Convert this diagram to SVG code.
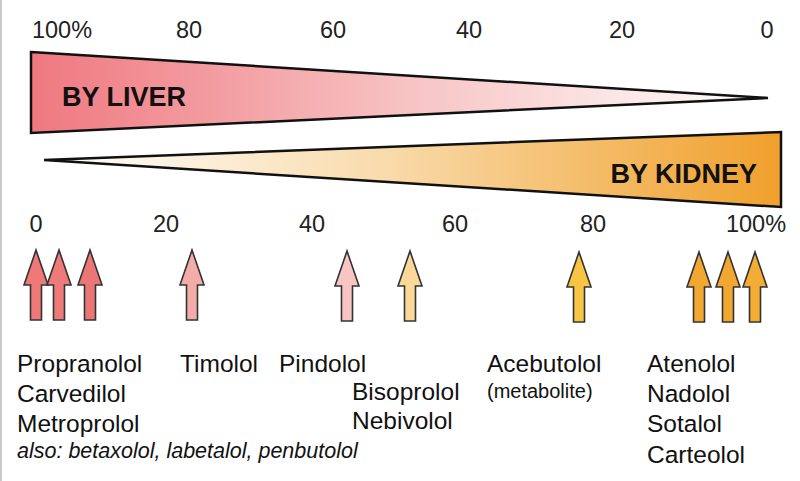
<svg xmlns="http://www.w3.org/2000/svg" width="800" height="481" viewBox="0 0 800 481">
<defs>
<linearGradient id="gLiver" x1="31" y1="0" x2="770" y2="0" gradientUnits="userSpaceOnUse">
<stop offset="0" stop-color="#ef7880"/>
<stop offset="0.5" stop-color="#f7c2c2"/>
<stop offset="1" stop-color="#ffffff"/>
</linearGradient>
<linearGradient id="gKidney" x1="44" y1="0" x2="781" y2="0" gradientUnits="userSpaceOnUse">
<stop offset="0" stop-color="#ffffff"/>
<stop offset="0.45" stop-color="#f9dcae"/>
<stop offset="1" stop-color="#f0a02c"/>
</linearGradient>
<path id="arr" d="M0,0 L12,35 L5.5,35 L5.5,70 L-5.5,70 L-5.5,35 L-12,35 Z"/>
</defs>
<style>
.tick{font-family:"Liberation Sans",Arial,sans-serif;font-size:23.5px;fill:#222;text-anchor:middle}
.big{font-family:"Liberation Sans",Arial,sans-serif;font-size:27px;font-weight:bold;fill:#111}
.drug{font-family:"Liberation Sans",Arial,sans-serif;font-size:24.5px;fill:#111}
.note{font-family:"Liberation Sans",Arial,sans-serif;font-size:21.5px;font-style:italic;fill:#111}
.small{font-family:"Liberation Sans",Arial,sans-serif;font-size:20px;fill:#111}
.tri{stroke:#111;stroke-width:2.5;stroke-linejoin:miter}
.a{stroke:#333;stroke-width:1.6;stroke-linejoin:miter}
</style>
<rect width="800" height="481" fill="#ffffff"/>
<line x1="1" y1="0" x2="1" y2="481" stroke="#c8c8c8" stroke-width="2"/>
<g id="top-scale">
<text class="tick" x="62" y="38">100%</text>
<text class="tick" x="189" y="38">80</text>
<text class="tick" x="333" y="38">60</text>
<text class="tick" x="469" y="38">40</text>
<text class="tick" x="622" y="38">20</text>
<text class="tick" x="767" y="38">0</text>
</g>
<g id="liver">
<polygon class="tri" points="31,52 768,98 31,133" fill="url(#gLiver)"/>
<text class="big" x="62" y="106">BY LIVER</text>
</g>
<g id="kidney">
<polygon class="tri" points="44,160 781,132 781,207" fill="url(#gKidney)"/>
<text class="big" x="757" y="183" text-anchor="end">BY KIDNEY</text>
</g>
<g id="bottom-scale">
<text class="tick" x="36" y="232">0</text>
<text class="tick" x="166" y="232">20</text>
<text class="tick" x="312" y="232">40</text>
<text class="tick" x="455" y="232">60</text>
<text class="tick" x="593" y="232">80</text>
<text class="tick" x="756" y="232">100%</text>
</g>
<g id="arrows">
<use href="#arr" class="a" x="36" y="250" fill="#ef7878"/>
<use href="#arr" class="a" x="59" y="250" fill="#ee7a7a"/>
<use href="#arr" class="a" x="90" y="250" fill="#ec7676"/>
<use href="#arr" class="a" x="192" y="250" fill="#f4aca8"/>
<use href="#arr" class="a" x="347" y="251" fill="#f8c6c2"/>
<use href="#arr" class="a" x="410" y="251" fill="#fbd898"/>
<use href="#arr" class="a" x="579" y="252" fill="#f8c444"/>
<use href="#arr" class="a" x="699" y="252" fill="#f2a830"/>
<use href="#arr" class="a" x="728" y="252" fill="#f2a830"/>
<use href="#arr" class="a" x="755" y="252" fill="#f3ac34"/>
</g>
<g id="liver-drugs">
<text class="drug" x="17" y="372">Propranolol</text>
<text class="drug" x="17" y="402">Carvedilol</text>
<text class="drug" x="17" y="432">Metroprolol</text>
<text class="note" x="17" y="458">also: betaxolol, labetalol, penbutolol</text>
</g>
<g id="timolol"><text class="drug" x="180" y="372">Timolol</text></g>
<g id="pindolol"><text class="drug" x="279" y="372">Pindolol</text></g>
<g id="bisoprolol">
<text class="drug" x="352" y="400">Bisoprolol</text>
<text class="drug" x="352" y="429">Nebivolol</text>
</g>
<g id="acebutolol">
<text class="drug" x="487" y="372">Acebutolol</text>
<text class="small" x="487" y="398">(metabolite)</text>
</g>
<g id="kidney-drugs">
<text class="drug" x="647" y="372">Atenolol</text>
<text class="drug" x="647" y="402">Nadolol</text>
<text class="drug" x="647" y="432">Sotalol</text>
<text class="drug" x="647" y="463">Carteolol</text>
</g>
</svg>
